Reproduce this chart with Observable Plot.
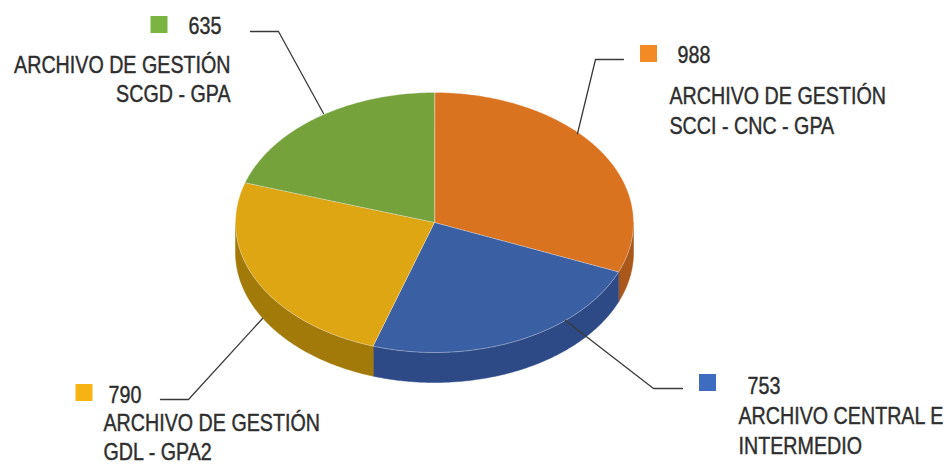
<!DOCTYPE html>
<html>
<head>
<meta charset="utf-8">
<script src="https://cdn.jsdelivr.net/npm/d3@7"></script>
<script src="https://cdn.jsdelivr.net/npm/@observablehq/plot@0.6"></script>
<style>
  html, body { margin: 0; padding: 0; background: #ffffff; }
  #chart svg { display: block; }
</style>
</head>
<body>
<div id="chart"></div>
<script>
// ---- Data ----
const categories = ["SCCI - CNC - GPA", "CENTRAL E INTERMEDIO", "GDL - GPA2", "SCGD - GPA"];
const values = [988, 753, 790, 635];
const labelLines = [
  ["ARCHIVO DE GESTIÓN", "SCCI - CNC - GPA"],
  ["ARCHIVO CENTRAL E", "INTERMEDIO"],
  ["ARCHIVO DE GESTIÓN", "GDL - GPA2"],
  ["ARCHIVO DE GESTIÓN", "SCGD - GPA"]
];
const topColors = ["#DA731F", "#3A5FA3", "#DFA613", "#75A23A"];
const sideColors = ["#A9571A", "#2D4A87", "#A27A09", "#5A7E2C"];
const swatchColors = ["#F28A25", "#3D6CC0", "#F5B414", "#7BB442"];

// ---- Layout (pixels) ----
const W = 947, H = 467;
const pie = {cx: 434, cy: 222, rx: 199, ry: 130, depth: 30};
const labelLayout = [
  {sw: [648, 53], val: [677, 62], txt: [669, 133], lh: 1.25, anchor: "start", leader: [[577, 133], [595, 59], [623, 59]]},
  {sw: [707, 382], val: [747, 393], txt: [738, 453], lh: 1.25, anchor: "start", leader: [[565, 320], [653, 388], [682, 388]]},
  {sw: [83.5, 392], val: [108, 402], txt: [103, 459], lh: 1.17, anchor: "start", leader: [[262, 318], [188, 399], [160, 399]]},
  {sw: [158.5, 24], val: [188, 33], txt: [230, 101], lh: 1.17, anchor: "end", leader: [[323, 113], [278, 31], [250, 31]]}
];
const squeeze = 0.82; // horizontal condensing of label text

// ---- Geometry from data ----
const arcs = d3.pie().sort(null).value(d => d)(values);
const px = a => pie.cx + pie.rx * Math.sin(a);
const py = a => pie.cy - pie.ry * Math.cos(a);
const step = Math.PI / 360;

const topPts = [];
const sidePts = [];
arcs.forEach((arc, i) => {
  topPts.push({i, x: pie.cx, y: pie.cy});
  for (let a = arc.startAngle; a < arc.endAngle; a += step) topPts.push({i, x: px(a), y: py(a)});
  topPts.push({i, x: px(arc.endAngle), y: py(arc.endAngle)});
  const a0 = Math.max(arc.startAngle, Math.PI / 2);
  const a1 = Math.min(arc.endAngle, 3 * Math.PI / 2);
  if (a1 > a0) {
    const ring = [];
    for (let a = a0; a < a1; a += step) ring.push(a);
    ring.push(a1);
    ring.forEach(a => sidePts.push({i, x: px(a), y: py(a)}));
    ring.slice().reverse().forEach(a => sidePts.push({i, x: px(a), y: py(a) + pie.depth}));
  }
});

const labelData = arcs.map((arc, i) => ({i, value: values[i], text: labelLines[i].join("\n"), ...labelLayout[i]}));
const leaderPts = labelData.flatMap(d => d.leader.map(([x, y]) => ({i: d.i, x, y})));

const font = "'Liberation Sans', Arial, sans-serif";
const ink = "#2e2e2e";
const textStyle = {fontSize: 24, fill: ink, stroke: ink, strokeWidth: 0.45, fontFamily: font, lineAnchor: "bottom"};

const chart = Plot.plot({
  width: W,
  height: H,
  margin: 0,
  style: {background: "#ffffff", fontFamily: font},
  x: {domain: [0, W], range: [0, W], axis: null},
  y: {domain: [0, H], range: [0, H], axis: null},
  color: {type: "identity"},
  marks: [
    Plot.line(sidePts, {x: "x", y: "y", z: "i", fill: d => sideColors[d.i], stroke: d => sideColors[d.i], strokeWidth: 0.5, curve: "linear-closed"}),
    Plot.line(topPts, {x: "x", y: "y", z: "i", fill: d => topColors[d.i], stroke: "#f4f4f4", strokeWidth: 0.6, strokeOpacity: 0.6, curve: "linear-closed"}),
    Plot.line(leaderPts, {x: "x", y: "y", z: "i", stroke: "#3a3a3a", strokeWidth: 1.3}),
    Plot.dot(labelData, {x: d => d.sw[0], y: d => d.sw[1], symbol: "square", r: 9.6, fill: d => swatchColors[d.i], stroke: null}),
    Plot.text(labelData, {x: d => d.val[0], y: d => d.val[1], text: d => String(d.value), textAnchor: "start", ...textStyle}),
    ...labelData.map(d => Plot.text([d], {x: d.txt[0], y: d.txt[1], text: "text", textAnchor: d.anchor, lineHeight: d.lh, ...textStyle}))
  ]
});
// condense label text horizontally around its anchor
chart.querySelectorAll("text").forEach(t => {
  const tr = t.getAttribute("transform") || "";
  t.setAttribute("transform", `${tr} scale(${squeeze},1)`);
});
document.getElementById("chart").appendChild(chart);
</script>
</body>
</html>
